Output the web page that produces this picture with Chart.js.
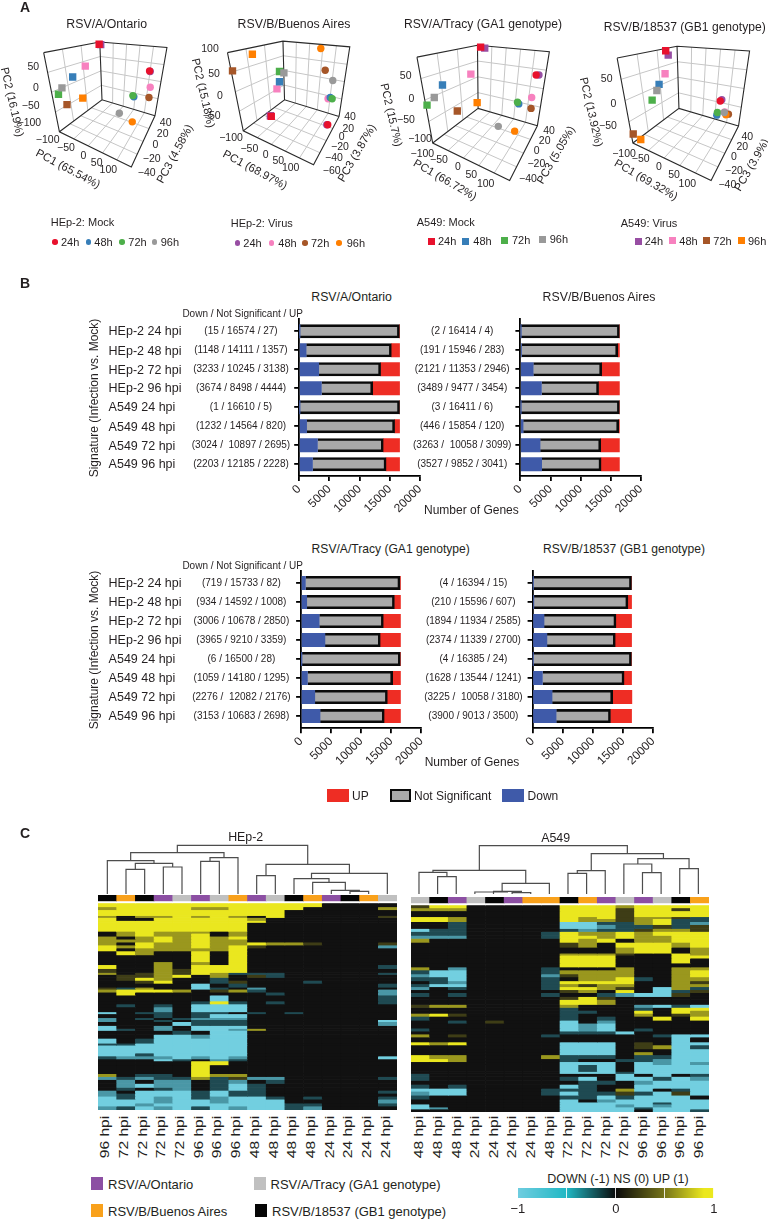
<!DOCTYPE html>
<html><head><meta charset="utf-8">
<script src="https://cdn.jsdelivr.net/npm/chart.js@4"></script>
<style>
html,body{margin:0;padding:0;background:#fff;width:768px;height:1220px;overflow:hidden}
body{position:relative;font-family:"Liberation Sans",Arial,sans-serif;color:#231f20}
canvas{position:absolute}
.t{position:absolute;white-space:pre;line-height:1}
.s{position:absolute}
</style></head><body>
<script>
/* ---------- Panel A values: positions on each plot's projected view plane ---------- */
const pcaTitles=["RSV/A/Ontario","RSV/B/Buenos Aires","RSV/A/Tracy (GA1 genotype)","RSV/B/18537 (GB1 genotype)"];
const timeLabels=["24h","48h","72h","96h"];
const mockColors=["#e8112d","#377eb8","#4daf4a","#999999"];
const virusColors=["#984ea3","#f781bf","#a65628","#ff7f00"];
// order per series: 24h,48h,72h,96h
const ontarioA549Mock=[[298,122],[214,224],[169,278],[180,258]];
const ontarioA549Virus=[[303,123],[254,190],[196,310],[246,290]];
const ontarioHep2Mock=[[458,205],[408,286],[405,282],[362,337]];
const ontarioHep2Virus=[[460,207],[460,256],[456,288],[403,364]];
const buenosA549Mock=[[811,347],[837,239],[837,207],[851,211]];
const buenosA549Virus=[[808,345],[829,261],[688,205],[751,153]];
const buenosHep2Mock=[[990,373],[998,288],[1004,292],[1006,235]];
const buenosHep2Virus=[[987,373],[991,292],[982,203],[968,135]];
const tracyA549Mock=[[290,131],[169,249],[120,312],[143,288]];
const tracyA549Virus=[[303,134],[259,215],[216,330],[279,304]];
const tracyHep2Mock=[[466,218],[411,308],[407,303],[346,378]];
const tracyHep2Virus=[[475,218],[452,288],[450,322],[398,393]];
const b18537A549Mock=[[844,142],[823,247],[801,296],[816,266]];
const b18537A549Virus=[[852,156],[842,214],[741,402],[765,419]];
const b18537Hep2Mock=[[1017,299],[1006,343],[1008,335],[1030,335]];
const b18537Hep2Virus=[[1022,295],[1031,333],[1043,340],[1035,342]];
// box corners: A top-left, B top-back, C top-right, D floor-left, E floor-back, F floor-right, G floor-front
const boxOntario=[[122,148],[300,115],[513,132],[172,395],[307,295],[475,345],[400,505]];
const boxBuenos=[[672,148],[848,112],[1060,130],[722,392],[853,295],[1026,347],[945,498]];
const boxTracy=[[88,162],[280,125],[508,145],[138,430],[282,322],[470,376],[382,547]];
const box18537=[[690,165],[880,128],[1110,143],[740,430],[886,322],[1075,377],[988,547]];
const ticksOntario=[["50",100,197],["0",108,262],["−50",92,314],["−100",88,365],["−100",143,418],["−50",198,440],["0",250,465],["50",290,487],["100",325,508],["40",497,365],["20",488,398],["0",466,432],["−20",455,475],["−40",440,517]];
const ticksBuenos=[["100",630,145],["50",642,220],["0",660,285],["−50",635,345],["−100",693,412],["−50",748,443],["0",797,462],["50",835,480],["100",872,500],["40",1050,348],["20",1045,383],["0",1025,408],["−20",1020,437],["−40",1002,470],["−60",995,510]];
const ticksTracy=[["50",65,224],["0",82,295],["−50",66,358],["−100",108,413],["−100",115,458],["−50",165,477],["0",222,497],["50",262,522],["100",305,548],["40",495,390],["20",482,420],["0",458,450],["−20",457,488],["−40",432,535]];
const ticks18537=[["50",668,235],["0",688,310],["−50",672,375],["−100",720,458],["−50",770,475],["0",825,497],["50",870,522],["100",910,548],["40",1090,408],["20",1075,437],["0",1050,468],["−20",1050,510],["−40",1030,553]];
const axisTitlesOntario=[["PC2 (16.19%)",35,305,77],["PC1 (65.54%)",203,508,28],["PC3 (4.58%)",525,463,-62]];
const axisTitlesBuenos=[["PC2 (15.18%)",610,280,77],["PC1 (68.97%)",765,510,28],["PC3 (3.87%)",1072,458,-60]];
const axisTitlesTracy=[["PC2 (15.7%)",22,345,77],["PC1 (66.72%)",182,540,30],["PC3 (5.05%)",515,465,-60]];
const axisTitles18537=[["PC2 (13.92%)",620,335,77],["PC1 (69.32%)",787,540,30],["PC3 (3.9%)",1103,495,-60]];

/* ---------- Panel B values ---------- */
const rowLabels=["HEp-2 24 hpi","HEp-2 48 hpi","HEp-2 72 hpi","HEp-2 96 hpi","A549 24 hpi","A549 48 hpi","A549 72 hpi","A549 96 hpi"];
const ontarioDown=[15,1148,3233,3674,1,1232,3024,2203];
const ontarioNS=[16574,14111,10245,8498,16610,14564,10897,12185];
const ontarioUp=[27,1357,3138,4444,5,820,2695,2228];
const buenosDown=[2,191,2121,3489,3,446,3263,3527];
const buenosNS=[16414,15946,11353,9477,16411,15854,10058,9852];
const buenosUp=[4,283,2946,3454,6,120,3099,3041];
const tracyDown=[719,934,3006,3965,6,1059,2276,3153];
const tracyNS=[15733,14592,10678,9210,16500,14180,12082,10683];
const tracyUp=[82,1008,2850,3359,28,1295,2176,2698];
const b18537Down=[4,210,1894,2374,4,1628,3225,3900];
const b18537NS=[16394,15596,11934,11339,16385,13544,10058,9013];
const b18537Up=[15,607,2585,2700,24,1241,3180,3500];
const geneTicks=[0,5000,10000,15000,20000];

/* ---------- Panel C values ---------- */
// levels: Y=+1, y=+0.55, o=+0.25, .=0, t=-0.3, c=-0.6, C=-1. Each band: [row count, 16 columns]
const hep2Hours=["96","72","72","72","72","96","96","96","48","48","48","48","24","24","24","24"];
const a549Hours=["48","48","48","24","24","24","24","48","72","72","72","72","96","96","96","96"];
const hep2Strains=["k","b","k","o","t","o","t","b","o","t","k","b","o","k","b","t"];
const a549Strains=["t","k","o","t","k","o","b","b","k","b","o","t","o","t","k","b"];
const hep2Bands=[[4,"YYYYYYYY YYYY...."],[3,"yYYYYyyY YYY....y"],[6,"YYYYYYYY YY......"],[2,"y.yyYyYy .Y.....o"],[3,"Y..YYYYY y......."],[2,"YYYYYYYY Y......."],[9,"YYYYYYYY ........"],[2,".yYyyy.y ........"],[3,".yYyyY.y ........"],[3,"y.yYyYyY ........"],[3,"yyyYyYyy ........"],[3,"y.YyyYyy Yyyo...o"],[3,"YyYyyYyY o......c"],[3,"Y.yyyyyY ........"],[4,".Yy..Y.Y ........"],[7,".....Y.Y ........"],[3,"...y.y.Y ........"],[4,"Y..y.YYY .......t"],[4,"o..yoYYY ........"],[2,"y.oyoYyt tt.....t"],[3,".ooyY.y. ot......"],[3,".oYy..t. ........"],[3,"..oY..to ...t...."],[4,".....C.t .......t"],[2,"oty..Ct. c......."],[3,"yYYYy.oy t......c"],[3,".Y...... .t.....c"],[6,"......C. .......t"],[3,".....tYt .t.....t"],[3,".t.t.CCC ........"],[5,"...c.CCC ........"],[2,"C.tt.tt. t.t....."],[4,"...t.tCC ........"],[2,"c.t.tccc ........"],[2,"c..t.ttt .......C"],[4,"....Cttt .......c"],[3,"C..c.CCC ........"],[2,"Ct.c.CCc y......."],[4,"....t.CC ........"],[4,"...CCcCC ........"],[5,"C.tCCCCC ........"],[2,"ttCCCCCC ........"],[8,"CCCCCCCC ........"],[3,"CCtCCCCC ........"],[3,"tcccCcCc .......C"],[2,"...Ct.ct ........"],[4,".....YY. ........"],[9,".....Y.. ........"],[3,"y.tt.Yyy ........"],[3,"ctcttyto cc.....t"],[4,".c.cc.tc .t......"],[4,".cCcc.tC t......."],[3,".t.tc.tC t......."],[3,"c.CCCtCt t......t"],[3,"ctCCCtCt t......."],[3,"CtCcCtcC Ct.t...t"],[4,"CCCcCCcC CC.....c"],[3,"CCcCCCCC CCtt...t"],[4,"ctCcCtCc CCtc...."]];
const a549Bands=[[3,"oYY..... YYYyYYYY"],[3,"yyy..... YYYoYYoY"],[6,"........ YYYoYYYY"],[2,"YYy..... YyYoyyot"],[3,"YYy..... YyyoyYtt"],[3,"..t..... CCttyYtc"],[4,"..t..... CCcttoto"],[3,"Ctt..... tcttoyyo"],[4,"ttt....t YyyYyYYY"],[3,"ccc....t YYyYyyYY"],[4,"y....... YyY.yyYY"],[5,"........ oy.YYYyY"],[6,"........ ...yYY.y"],[2,"........ yyyo..Yy"],[3,"........ YYY...YY"],[5,"........ YYY...Y."],[4,"........ YYY....."],[3,"y.c....t ...y..yy"],[4,"tCC....t yyyy..yY"],[3,"cCC....c oyyy..yY"],[4,"ttC....t .yyYt.yy"],[3,".tc....t YYYY..yo"],[3,"tCC....t yoyy..yy"],[3,"c.t....t YYyo.Cyt"],[3,"........ oy.Y.Cto"],[4,"t.t....t ..tcCCo."],[3,"........ oYo....."],[5,"........ YYy....."],[3,"oyy..... y...cCtC"],[3,"........ t...t.YY"],[3,"........ tt..Y.Yy"],[3,"yYo..... t...y.oy"],[4,"t....... t.t..Y.Y"],[3,"..t.o... C.c....."],[5,"........ CcC....."],[3,"t....... CcC.t..."],[3,"........ tttC...."],[3,"y.o....t .....tCC"],[5,"........ ......C."],[3,"YyY..... CCC.o.CC"],[4,"........ CCC.oyCt"],[3,"........ CCC...CC"],[3,"........ CCC.y.CC"],[4,"Yyy....y ttt.ttCC"],[3,"YYy..... t..ttcCC"],[3,"........ CCC.CcCc"],[7,"........ CtC.CCCC"],[2,"........ CCCtCCCC"],[3,"t....... ...C.C.t"],[4,"t....... tC.CCtCc"],[4,"........ .tt.cCCC"],[4,"t.t..... Ct..CCCC"],[3,"CCC....t tt.yC.tC"],[4,"cCC....t CttotCoC"],[4,"t....... ttCtCCC."],[3,"........ C.cCCCCC"],[2,"........ CCCCCtCC"],[3,"C....... CCCcCcCC"],[2,"Cc...... CCCCtCCC"],[3,"........ CCCC.CCt"]];
// dendrogram merges: [left child, right child, merge level, optional node position]; children <16 are leaves
const hep2Merges=[[1,2,148],[3,4,141],[16,17,130],[0,18,122],[5,6,124],[20,7,113],[19,21,98],[8,9,167],[13,14,214],[12,24,211],[11,25,187],[10,26,176],[27,15,160],[23,28,133],[22,29,76]];
const a549Merges=[[1,2,170],[0,16,157],[5,6,218],[4,18,214],[3,19,216,291],[20,7,190],[17,21,151],[8,9,160],[23,10,152],[12,13,158],[11,25,132],[14,15,146],[26,27,116],[24,28,101],[22,29,77]];
const colorbarStops=[-1,-0.5,0,0.5,0.9,1];
const colorbarColors=["#6fcde0","#20b8c4","#0a0a0a","#77751a","#ebe81e","#ebe81e"];

/* ---------- helpers ---------- */
Chart.defaults.font.family='"Liberation Sans",Arial,sans-serif';
Chart.defaults.color='#231f20';
Chart.defaults.animation=false;
Chart.defaults.events=[];
Chart.defaults.plugins.legend.display=false;
Chart.defaults.plugins.tooltip.enabled=false;
function mk(left,top,w,h,config){
  const c=document.createElement('canvas');c.width=w;c.height=h;
  c.style.left=left+'px';c.style.top=top+'px';c.style.width=w+'px';c.style.height=h+'px';
  document.body.appendChild(c);
  config.options=Object.assign({responsive:false,maintainAspectRatio:false},config.options);
  return new Chart(c,config);
}
function txt(s,x,y,o={}){
  const d=document.createElement('div');d.className='t';d.textContent=s;
  const size=o.size||12;d.style.fontSize=size+'px';d.style.left=x+'px';d.style.top=y+'px';
  if(o.weight)d.style.fontWeight=o.weight;
  const tx=o.align==='left'?'0':'-50%';
  d.style.transform=`translate(${tx},-50%) rotate(${o.rot||0}deg) scaleX(${o.sx||1})`;
  document.body.appendChild(d);
}
function swatch(x,y,w,h,bg,o={}){
  const d=document.createElement('div');d.className='s';
  d.style.cssText=`left:${x}px;top:${y}px;width:${w}px;height:${h}px;background:${bg};box-sizing:border-box;`+(o.round?'border-radius:50%;':'')+(o.border?`border:${o.border};`:'');
  document.body.appendChild(d);
}
const pts=a=>a.map(p=>({x:p[0],y:p[1]}));

/* ---------- Panel A ---------- */
const lerp=(a,b,t)=>[a[0]+(b[0]-a[0])*t,a[1]+(b[1]-a[1])*t];
function quadGrid(p00,p10,p11,p01,nu,nv){
  const out=[];
  for(let i=1;i<nu;i++){const a=lerp(p00,p10,i/nu),b=lerp(p01,p11,i/nu);out.push({x:a[0],y:a[1]},{x:b[0],y:b[1]},{x:null,y:null});}
  for(let j=1;j<nv;j++){const a=lerp(p00,p01,j/nv),b=lerp(p10,p11,j/nv);out.push({x:a[0],y:a[1]},{x:b[0],y:b[1]},{x:null,y:null});}
  return out;
}
function pca(left,xMin,xMax,box,series){
  const [A,B,C,D,E,F,G]=box;
  const grid=[...quadGrid(A,B,E,D,3,4),...quadGrid(B,C,F,E,5,4),...quadGrid(D,G,F,E,5,4)];
  const edge=[A,B,C,F,G,D,A,null,B,E,null,D,E,F].map(p=>p?{x:p[0],y:p[1]}:{x:null,y:null});
  const line=(data,color,w,order)=>({data,showLine:true,pointRadius:0,borderColor:color,borderWidth:w,spanGaps:false,order});
  const markers=(d,colors,style,r,order)=>({data:pts(d),showLine:false,pointStyle:style,pointRadius:r,pointBackgroundColor:colors,pointBorderWidth:0,order});
  mk(left,0,192,270,{type:'scatter',data:{datasets:[
    line(grid,'#c6c6c6',1,20),line(edge,'#2a2a2a',1.1,19),
    markers(series[0],mockColors,'rect',5.2,3),markers(series[1],virusColors,'rect',5.2,4),
    markers(series[3],virusColors,'circle',3.7,2),markers(series[2],mockColors,'circle',3.7,1)]},
    options:{layout:{padding:0},scales:{x:{type:'linear',display:false,min:xMin,max:xMax},y:{type:'linear',display:false,reverse:true,min:0,max:810}}}});
}
pca(0,0,576,boxOntario,[ontarioA549Mock,ontarioA549Virus,ontarioHep2Mock,ontarioHep2Virus]);
pca(192,576,1152,boxBuenos,[buenosA549Mock,buenosA549Virus,buenosHep2Mock,buenosHep2Virus]);
pca(384,0,576,boxTracy,[tracyA549Mock,tracyA549Virus,tracyHep2Mock,tracyHep2Virus]);
pca(576,576,1152,box18537,[b18537A549Mock,b18537A549Virus,b18537Hep2Mock,b18537Hep2Virus]);
[[ticksOntario,0],[ticksBuenos,0],[ticksTracy,384],[ticks18537,384]].forEach(([l,o])=>l.forEach(t=>txt(t[0],o+t[1]/3,t[2]/3,{size:10.5})));
[[axisTitlesOntario,0],[axisTitlesBuenos,0],[axisTitlesTracy,384],[axisTitles18537,384]].forEach(([l,o])=>l.forEach(t=>txt(t[0],o+t[1]/3,t[2]/3,{size:11.3,rot:t[3]})));
txt(pcaTitles[0],106.7,24,{size:12.3});txt(pcaTitles[1],294,24,{size:12.3});txt(pcaTitles[2],483,24,{size:12.1});txt(pcaTitles[3],684.7,26.7,{size:12.1});
txt("A",25,7,{size:14,weight:'bold'});txt("B",25,283,{size:14,weight:'bold'});txt("C",25,833,{size:14,weight:'bold'});
function pcaLegend(title,tx,ty,colors,round,mx,my,lx){
  txt(title,tx,ty,{size:11,align:'left'});
  timeLabels.forEach((l,i)=>{const s=round?5.5:7;swatch(mx[i]-s/2,my[i]-s/2,s,s,colors[i],{round});txt(l,lx[i],my[i],{size:11,align:'left'});});
}
pcaLegend("HEp-2: Mock",50.7,222,mockColors,true,[55,88.3,122,154.7],[242,242,242,242],[61,94.3,128.3,160.7]);
pcaLegend("HEp-2: Virus",230.7,222.7,virusColors,true,[237.7,271.7,305,339],[243,243,243,243],[243.3,278.3,311,346.7]);
pcaLegend("A549: Mock",416.7,221.7,mockColors,false,[431,465.3,504.3,542.3],[241,241,240,239],[438,473.3,512,549.7]);
pcaLegend("A549: Virus",620.7,223.3,virusColors,false,[638,672.7,706,741.3],[241,240.7,240.7,240.7],[644.7,679.3,713.3,748]);

/* ---------- Panel B ---------- */
function bars(axisX,endX,topY,botY,yMin,yMax,pad,down,ns,up){
  const cl=Math.floor(axisX-125),ct=Math.floor(topY-6),cw=Math.ceil(endX+6-cl),xh=42,ch=Math.ceil(botY+xh-ct);
  const labels=down.map((d,i)=>`(${d} /${i===6?'  ':' '}${ns[i]} / ${up[i]})`);
  const toPts=a=>a.map((v,i)=>({x:v,y:i}));
  const common={barThickness:13.3,stack:'s',borderSkipped:false};
  mk(cl,ct,cw,ch,{type:'bar',data:{datasets:[
    {...common,label:'Down',data:toPts(down),backgroundColor:'#3f5aa9',borderWidth:0},
    {...common,label:'Not Significant',data:toPts(ns),backgroundColor:'#a9a9a9',borderColor:'#0a0a0a',borderWidth:{top:2.6,bottom:2.6,right:2.6,left:0}},
    {...common,label:'UP',data:toPts(up),backgroundColor:'#ee2d24',borderWidth:0}]},
   options:{indexAxis:'y',layout:{padding:{left:0,top:topY-ct,right:cl+cw-endX,bottom:0}},
    scales:{
     x:{type:'linear',position:'bottom',stacked:true,min:0,max:20000,offset:false,
        afterBuildTicks:s=>{s.ticks=geneTicks.map(v=>({value:v}));},
        afterFit:s=>{s.height=ch-(botY-ct);s.paddingLeft=0;s.paddingRight=0;},
        grid:{offset:false,drawOnChartArea:false,color:'#000',lineWidth:1.8,tickLength:5},border:{color:'#000',width:1.8},
        ticks:{autoSkip:false,minRotation:45,maxRotation:45,padding:1,font:{size:12},callback:v=>String(v)}},
     y:{type:'linear',position:'left',stacked:true,reverse:true,min:yMin,max:yMax,offset:false,
        afterBuildTicks:s=>{s.ticks=rowLabels.map((_,i)=>({value:i}));},
        afterFit:s=>{s.width=axisX-cl;s.paddingTop=0;s.paddingBottom=0;},
        grid:{offset:false,drawOnChartArea:false,color:'#000',lineWidth:1.8,tickLength:5},border:{color:'#000',width:1.8},
        ticks:{autoSkip:false,crossAlign:'center',padding:pad,font:{size:10},callback:v=>labels[v]}}
    }}});
}
bars(299.2,420,319.3,476,-0.63,7.62,4,ontarioDown,ontarioNS,ontarioUp);
bars(520.4,641,319.3,476,-0.63,7.62,4,buenosDown,buenosNS,buenosUp);
bars(301.1,421.3,570.7,728.3,-0.647,7.647,5.5,tracyDown,tracyNS,tracyUp);
bars(532.6,653.2,570.7,728.3,-0.647,7.647,5,b18537Down,b18537NS,b18537Up);
const rowY1=[331.3,350.7,370,388.3,407.3,426.7,445.7,464.3],rowY2=[583,602,621.3,640,659,678,697,716];
rowLabels.forEach((l,i)=>{txt(l,108.6,rowY1[i],{size:12.5,align:'left'});txt(l,108.6,rowY2[i],{size:12.5,align:'left'});});
txt("RSV/A/Ontario",351.6,297.3,{size:12.3});txt("RSV/B/Buenos Aires",599,297.3,{size:12.3});
txt("RSV/A/Tracy (GA1 genotype)",390.7,549.3,{size:12.1});txt("RSV/B/18537 (GB1 genotype)",624,549.3,{size:12.1});
txt("Down / Not Significant / UP",242.7,314,{size:10});txt("Down / Not Significant / UP",242.7,566,{size:10});
txt("Signature (Infection vs. Mock)",93.7,397.5,{rot:-90});txt("Signature (Infection vs. Mock)",93.7,649.5,{rot:-90});
txt("Number of Genes",471.4,510);txt("Number of Genes",472,761.7);
swatch(326.7,788.7,22,13,'#ee2d24');txt("UP",352,795.7,{align:'left'});
swatch(389.5,788.7,21.5,13,'#a9a9a9',{border:'2.6px solid #0a0a0a'});txt("Not Significant",414,795.7,{align:'left'});
swatch(502,788.7,22,13,'#3f5aa9');txt("Down",527.6,795.7,{align:'left'});

/* ---------- Panel C ---------- */
const levelColors={Y:'#eae71f',y:'#9a971e',o:'#3e3d16','.':'#111111',t:'#1f4a52',c:'#4a97a6',C:'#72cfe0'};
const strainColors={o:'#8c4fa3',b:'#f9a11b',t:'#c0c0c0',k:'#050505'};
function heat(left,top,w,h,bands,strains){
  const rows=bands.map(b=>[b[0],b[1].replace(/ /g,'')]);
  const cats=strains.map((_,i)=>i);
  const ds=(n,colors)=>({data:cats.map(()=>n),backgroundColor:colors,borderWidth:0,barPercentage:1,categoryPercentage:1,stack:'s'});
  const total=8+rows.reduce((a,r)=>a+r[0],0);
  mk(left,top,w,h,{type:'bar',data:{labels:cats,datasets:[
    ds(6,strains.map(s=>strainColors[s])),ds(2,'#ffffff'),
    ...rows.map(r=>ds(r[0],[...r[1]].map(c=>levelColors[c])))]},
    options:{layout:{padding:0},scales:{x:{display:false,stacked:true},y:{display:false,stacked:true,reverse:true,min:0,max:total}}}});
}
heat(98,895,299,215,hep2Bands,hep2Strains);
heat(411,897,298,215,a549Bands,a549Strains);
function dendro(left,top,w,h,xMin,xMax,firstLeaf,merges){
  const pos=[];for(let i=0;i<16;i++)pos.push({x:firstLeaf+56*i,y:222});
  const seg=[];
  merges.forEach(m=>{
    const a=pos[m[0]],b=pos[m[1]],lvl=m[2];
    seg.push({x:a.x,y:a.y},{x:a.x,y:lvl},{x:b.x,y:lvl},{x:b.x,y:b.y},{x:null,y:null});
    pos.push({x:m[3]!==undefined?m[3]:(a.x+b.x)/2,y:lvl});
  });
  mk(left,top,w,h,{type:'scatter',data:{datasets:[{data:seg,showLine:true,pointRadius:0,borderColor:'#4d4d4d',borderWidth:1.2,spanGaps:false}]},
    options:{layout:{padding:0},scales:{x:{type:'linear',display:false,min:xMin,max:xMax},y:{type:'linear',display:false,reverse:true,min:60,max:225}}}});
}
dendro(98,840,299,55,25,922,53,hep2Merges);
dendro(411,840,298,55,17,913,41,a549Merges);
txt("HEp-2",245.7,836.7,{size:12.4});txt("A549",555.7,838,{size:12.4});
hep2Hours.forEach((l,i)=>txt(l+" hpi",98+18.69*(i+.5)-2,1137,{size:12,rot:-90,sx:1.3}));
a549Hours.forEach((l,i)=>txt(l+" hpi",411+18.63*(i+.5)-1,1137,{size:12,rot:-90,sx:1.3}));
swatch(91,1177.3,11.7,12.7,strainColors.o);txt("RSV/A/Ontario",108,1184.3,{size:13,align:'left'});
swatch(91,1204,11.7,12.7,strainColors.b);txt("RSV/B/Buenos Aires",108,1210.7,{size:13,align:'left'});
swatch(253.6,1177.3,12,12.7,strainColors.t);txt("RSV/A/Tracy (GA1 genotype)",270.5,1184.3,{size:13,align:'left'});
swatch(255,1204,12,12.7,strainColors.k);txt("RSV/B/18537 (GB1 genotype)",272,1210.7,{size:13,align:'left'});
txt("DOWN (-1) NS (0) UP (1)",617.9,1178.7,{size:12.5});
mk(505,1184,222,36,{type:'bar',data:{labels:['scale'],datasets:[{data:[[colorbarStops[0],colorbarStops[colorbarStops.length-1]]],barPercentage:1,categoryPercentage:1,borderWidth:0,
   backgroundColor:c=>{const a=c.chart.chartArea;if(!a)return '#000';const g=c.chart.ctx.createLinearGradient(a.left,0,a.right,0);colorbarStops.forEach((v,i)=>g.addColorStop((v+1)/2,colorbarColors[i]));return g;}}]},
  options:{indexAxis:'y',layout:{padding:{left:12.9,right:13.2,top:4,bottom:0}},scales:{
    y:{display:false},
    x:{type:'linear',min:-1,max:1,afterFit:s=>{s.height=22;s.paddingLeft=0;s.paddingRight=0;},
       grid:{z:1,color:'rgba(255,255,255,.85)',lineWidth:1,drawTicks:false},border:{display:false},
       ticks:{stepSize:.5,autoSkip:false,maxRotation:0,padding:4,font:{size:13},callback:v=>v===-1?'−1':(v===0?'0':(v===1?'1':''))}}}}});
</script>
</body></html>
